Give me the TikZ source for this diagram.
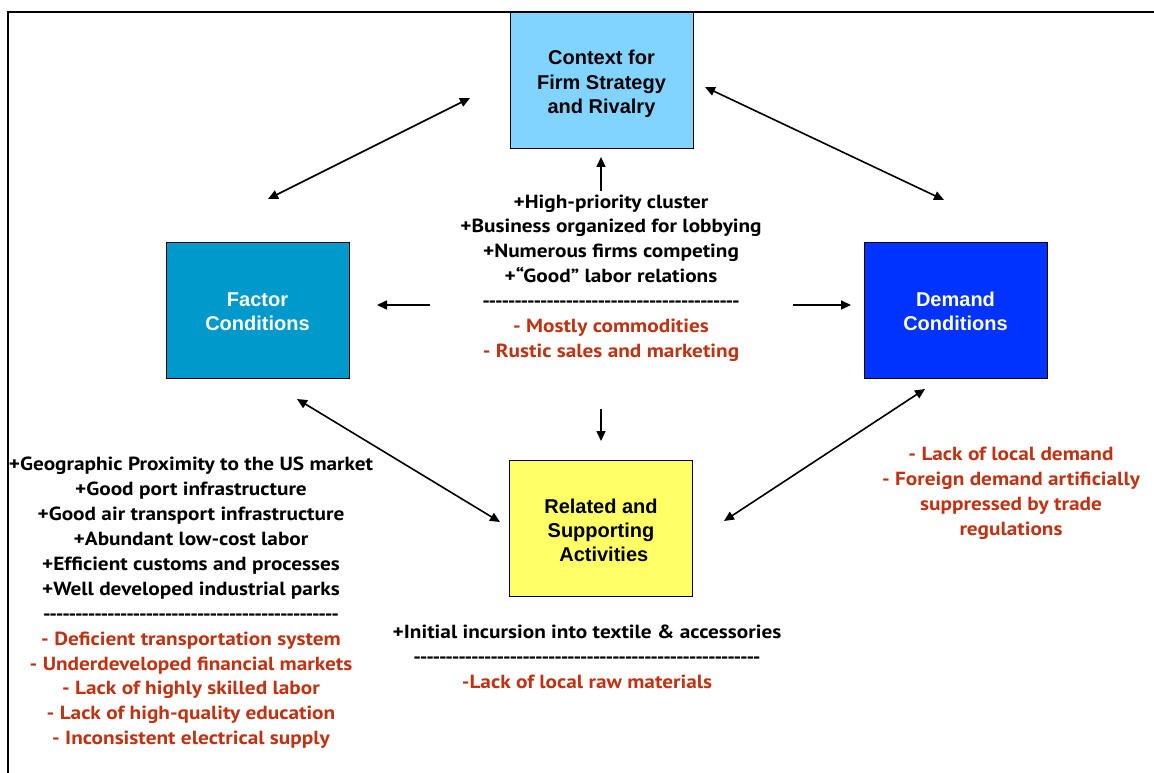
\documentclass[tikz,border=0pt]{standalone}
\usepackage{fontspec}
\usetikzlibrary{arrows.meta}
\newfontfamily\txtfont{PT Sans}[Ligatures=TeXOff, FakeStretch=1.12]
\newfontfamily\boxfont{Liberation Sans}
\definecolor{ctxblue}{RGB}{128,212,255}
\definecolor{facblue}{RGB}{0,153,204}
\definecolor{demblue}{RGB}{0,51,255}
\definecolor{relyel}{RGB}{255,255,102}
\definecolor{neg}{RGB}{191,50,18}
\newcommand\hyrow[1]{\foreach \i in {1,...,#1}{-}}
\tikzset{
  boxnode/.style={draw=black, line width=1pt, minimum width=183pt, minimum height=136pt, inner sep=0pt},
  boxtxt/.style={align=center, inner sep=0pt, font=\boxfont\bfseries\fontsize{20}{24.3}\selectfont},
  txt/.style={align=center, inner sep=0pt, font=\txtfont\bfseries\fontsize{19}{24.9}\selectfont},
  arr/.style={line width=1.6pt, -{Triangle[length=10pt,width=9pt]}},
  darr/.style={line width=1.6pt, {Triangle[length=10pt,width=9pt]}-{Triangle[length=10pt,width=9pt]}},
}
\begin{document}
\begin{tikzpicture}[x=1pt,y=-1pt]
\useasboundingbox (0,0) rectangle (1154,773);
\draw[line width=2pt] (8,773) -- (8,12) -- (1154,12);
% boxes
\node[boxnode, fill=ctxblue] (ctx) at (601.5,81) {};
\node[boxnode, fill=facblue] (fac) at (257.5,310.5) {};
\node[boxnode, fill=demblue] (dem) at (955.5,310.5) {};
\node[boxnode, fill=relyel] (rel) at (601,528.5) {};
\node[boxtxt] (ctxlbl) at ([yshift=-3pt]ctx.center) {Context for\\Firm Strategy\\and Rivalry};
\node[boxtxt, text=white] (faclbl) at ([yshift=-1pt]fac.center) {Factor\\Conditions};
\node[boxtxt, text=white] (demlbl) at ([yshift=-1pt]dem.center) {Demand\\Conditions};
\node[boxtxt] (rellbl) at ([yshift=-2pt]rel.center) {Related and\\Supporting\\\ Activities};
% text blocks
\node[txt] (ctr) at (611,278) {+High-priority cluster\\+Business organized for lobbying\\+Numerous firms competing\\+“Good” labor relations\\\hyrow{40}\\\textcolor{neg}{- Mostly commodities}\\\textcolor{neg}{- Rustic sales and marketing}};
\node[txt] (lft) at (191,603) {+Geographic Proximity to the US market\\+Good port infrastructure\\+Good air transport infrastructure\\+Abundant low-cost labor\\+Efficient customs and processes\\+Well developed industrial parks\\\hyrow{46}\\\textcolor{neg}{- Deficient transportation system}\\\textcolor{neg}{- Underdeveloped financial markets}\\\textcolor{neg}{- Lack of highly skilled labor}\\\textcolor{neg}{- Lack of high-quality education}\\\textcolor{neg}{- Inconsistent electrical supply}};
\node[txt] (bot) at (587,657) {+Initial incursion into textile \& accessories\\\hyrow{54}\\\textcolor{neg}{-Lack of local raw materials}};
\node[txt, text=neg] (rgt) at (1011,493) {- Lack of local demand\\- Foreign demand artificially\\suppressed by trade\\regulations};
% arrow end points
\coordinate (a1) at (470,98); \coordinate (a2) at (268,199);
\coordinate (b1) at (705,87); \coordinate (b2) at (944,200);
\coordinate (c1) at (297,399); \coordinate (c2) at (500,522);
\coordinate (d1) at (925,389); \coordinate (d2) at (724,521);
\coordinate (u1) at (601,191); \coordinate (u2) at (601,157);
\coordinate (l1) at (430,305); \coordinate (l2) at (377,305);
\coordinate (r1) at (793,305); \coordinate (r2) at (851,305);
\coordinate (w1) at (601,409); \coordinate (w2) at (601,441);
\draw[darr] (a1) -- (a2);
\draw[darr] (b1) -- (b2);
\draw[darr] (c1) -- (c2);
\draw[darr] (d1) -- (d2);
\draw[arr] (u1) -- (u2);
\draw[arr] (l1) -- (l2);
\draw[arr] (r1) -- (r2);
\draw[arr] (w1) -- (w2);
\end{tikzpicture}
\end{document}
